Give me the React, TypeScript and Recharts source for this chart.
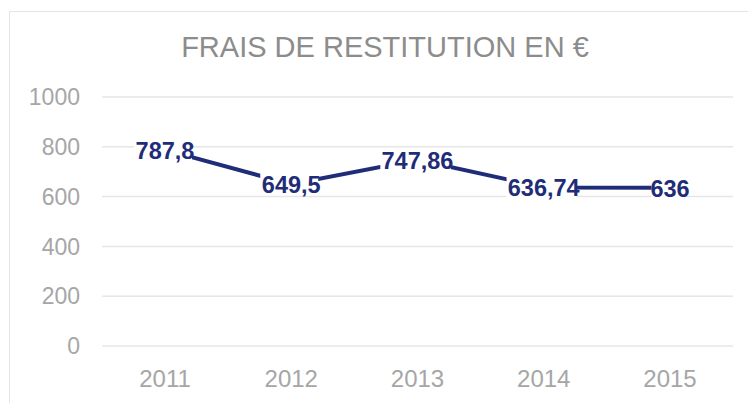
import { CartesianGrid, LabelList, Line, LineChart, XAxis, YAxis } from "recharts";

const years = ["2011", "2012", "2013", "2014", "2015"];
const frais = [787.8, 649.5, 747.86, 636.74, 636];
const yTicks = [0, 200, 400, 600, 800, 1000];

const data = years.map((year, i) => ({ year, frais: frais[i] }));

const NAVY = "#1F2D78";
const GREY = "#A6A6A6";

function ValueLabel(props: any) {
  const { x, y, value } = props;
  const text = String(value).replace(".", ",");
  const w = text.length * 12.4;
  return (
    <g>
      <rect x={x - w / 2} y={y - 11} width={w - 4} height={22} fill="#fff" />
      <text
        x={x}
        y={y + 1}
        textAnchor="middle"
        dominantBaseline="central"
        fill={NAVY}
        fontSize={23.5}
        fontWeight="bold"
        fontFamily="Liberation Sans, Arial, sans-serif"
      >
        {text}
      </text>
    </g>
  );
}

export default function App() {
  return (
    <div style={{ position: "absolute", left: 0, top: 0, width: 748, height: 403, background: "#fff", overflow: "hidden" }}>
      <div
        style={{
          position: "absolute",
          left: 9,
          top: 11,
          right: -2,
          bottom: -2,
          borderTop: "1.5px solid #E4E4E4",
          borderLeft: "1.5px solid #E4E4E4"
        }}
      />
      <div
        style={{
          position: "absolute",
          left: 0,
          width: 770,
          top: 30,
          textAlign: "center",
          fontFamily: "Liberation Sans, Arial, sans-serif",
          fontSize: 29,
          color: "#8C8C8C",
          lineHeight: "34px"
        }}
      >
        FRAIS DE RESTITUTION EN €
      </div>
      <div style={{ position: "absolute", left: 0, top: 0 }}>
        <LineChart width={748} height={403} data={data} margin={{ top: 97, right: 15, bottom: 0, left: 0 }}>
          <CartesianGrid vertical={false} stroke="#E6E6E6" strokeWidth={1.5} />
          <XAxis
            dataKey="year"
            axisLine={false}
            tickLine={false}
            tickSize={0}
            tickMargin={24}
            height={57}
            padding={{ left: 63, right: 63 }}
            tick={{ fill: GREY, fontSize: 24, fontFamily: "Liberation Sans, Arial, sans-serif" }}
          />
          <YAxis
            domain={[0, 1000]}
            ticks={yTicks}
            axisLine={false}
            tickLine={false}
            tickSize={0}
            tickMargin={22}
            width={102}
            tick={{ fill: GREY, fontSize: 23, fontFamily: "Liberation Sans, Arial, sans-serif" }}
          />
          <Line
            type="linear"
            dataKey="frais"
            stroke={NAVY}
            strokeWidth={4}
            dot={false}
            activeDot={false}
            isAnimationActive={false}
          >
            <LabelList dataKey="frais" content={ValueLabel} />
          </Line>
        </LineChart>
      </div>
    </div>
  );
}
